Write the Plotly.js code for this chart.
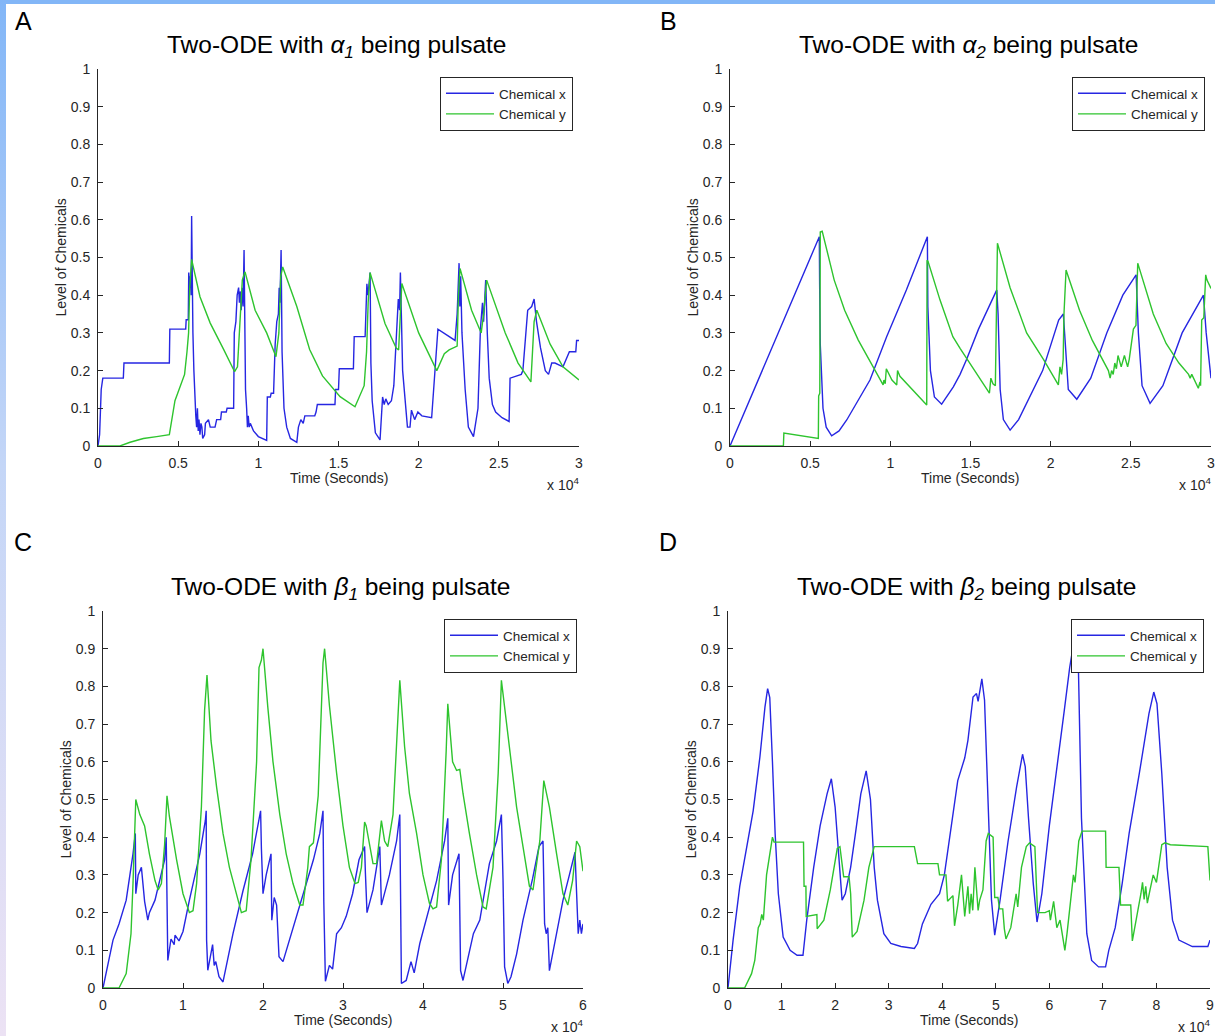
<!DOCTYPE html>
<html><head><meta charset="utf-8">
<script src="https://cdn.plot.ly/plotly-3.0.1.min.js"></script>
<style>
html,body{margin:0;padding:0;background:#fff;}
#chart{position:absolute;left:0;top:0;width:1215px;height:1036px;}
#topbar{position:absolute;left:0;top:0;width:1215px;height:4px;background:#82b6f7;}
#leftbar{position:absolute;left:0;top:0;width:6px;height:1036px;background:linear-gradient(#82b6f7,#c4d6f7 45%,#ece2f4);}
</style></head>
<body>
<div id="chart"></div><div id="topbar"></div><div id="leftbar"></div>
<script>
// ---- DATA: [time (x10^4 s), level] ----
const seriesNames = ["Chemical x", "Chemical y"];
const panelTitles = [
  "Two-ODE with <i>α<sub>1</sub></i> being pulsate",
  "Two-ODE with <i>α<sub>2</sub></i> being pulsate",
  "Two-ODE with <i>β<sub>1</sub></i> being pulsate",
  "Two-ODE with <i>β<sub>2</sub></i> being pulsate"
];
const panelLetters = ["A", "B", "C", "D"];
const xRanges = [3, 3, 6, 9];
const xDticks = [0.5, 0.5, 1, 1];

const aX = [[0,0],[0.01,0.03],[0.02,0.15],[0.03,0.18],[0.158,0.18],[0.162,0.22],[0.445,0.22],[0.448,0.31],[0.547,0.31],[0.55,0.335],[0.563,0.335],[0.566,0.46],[0.569,0.38],[0.572,0.45],[0.575,0.42],[0.578,0.46],[0.581,0.40],[0.584,0.61],[0.587,0.35],[0.592,0.3],[0.598,0.2],[0.603,0.12],[0.61,0.08],[0.615,0.05],[0.62,0.1],[0.625,0.04],[0.63,0.07],[0.636,0.03],[0.642,0.06],[0.648,0.05],[0.653,0.02],[0.665,0.03],[0.67,0.06],[0.689,0.07],[0.7,0.05],[0.73,0.05],[0.74,0.07],[0.765,0.07],[0.77,0.09],[0.8,0.09],[0.805,0.1],[0.846,0.1],[0.85,0.3],[0.86,0.33],[0.868,0.4],[0.877,0.42],[0.882,0.38],[0.888,0.41],[0.893,0.36],[0.9,0.42],[0.905,0.37],[0.911,0.52],[0.915,0.3],[0.92,0.15],[0.927,0.1],[0.932,0.05],[0.937,0.08],[0.943,0.05],[0.95,0.06],[0.97,0.04],[1.0,0.025],[1.03,0.018],[1.052,0.015],[1.056,0.13],[1.075,0.13],[1.08,0.14],[1.095,0.14],[1.105,0.27],[1.115,0.33],[1.125,0.35],[1.13,0.42],[1.135,0.38],[1.142,0.52],[1.148,0.25],[1.16,0.1],[1.177,0.05],[1.2,0.02],[1.24,0.01],[1.25,0.05],[1.265,0.07],[1.28,0.06],[1.29,0.08],[1.352,0.08],[1.36,0.09],[1.368,0.11],[1.478,0.11],[1.482,0.15],[1.5,0.15],[1.505,0.205],[1.593,0.205],[1.598,0.29],[1.666,0.29],[1.671,0.38],[1.677,0.43],[1.684,0.4],[1.69,0.44],[1.697,0.46],[1.702,0.22],[1.71,0.12],[1.73,0.035],[1.759,0.016],[1.775,0.13],[1.785,0.11],[1.795,0.125],[1.81,0.11],[1.83,0.12],[1.845,0.16],[1.873,0.39],[1.881,0.36],[1.886,0.46],[1.892,0.35],[1.9,0.2],[1.93,0.05],[1.946,0.05],[1.955,0.095],[1.975,0.07],[1.995,0.09],[2.02,0.08],[2.081,0.075],[2.1,0.19],[2.12,0.31],[2.227,0.28],[2.24,0.35],[2.252,0.485],[2.257,0.37],[2.262,0.45],[2.27,0.3],[2.29,0.15],[2.31,0.05],[2.342,0.025],[2.37,0.1],[2.385,0.31],[2.398,0.38],[2.405,0.33],[2.418,0.44],[2.428,0.3],[2.44,0.18],[2.46,0.11],[2.48,0.09],[2.52,0.075],[2.564,0.065],[2.57,0.18],[2.64,0.19],[2.65,0.2],[2.68,0.36],[2.705,0.37],[2.72,0.39],[2.735,0.33],[2.76,0.26],[2.79,0.2],[2.81,0.19],[2.83,0.22],[2.85,0.22],[2.9,0.21],[2.93,0.24],[2.94,0.25],[2.98,0.25],[2.985,0.28],[3.0,0.28]];
const aY = [[0,0],[0.137,0],[0.2,0.01],[0.283,0.02],[0.366,0.025],[0.445,0.03],[0.48,0.12],[0.51,0.155],[0.54,0.19],[0.555,0.25],[0.565,0.3],[0.572,0.42],[0.584,0.495],[0.636,0.396],[0.7,0.326],[0.785,0.255],[0.852,0.197],[0.87,0.21],[0.885,0.31],[0.9,0.44],[0.917,0.462],[0.98,0.36],[1.052,0.3],[1.11,0.237],[1.128,0.3],[1.14,0.45],[1.152,0.475],[1.24,0.37],[1.32,0.256],[1.4,0.186],[1.51,0.131],[1.603,0.104],[1.66,0.16],[1.675,0.25],[1.685,0.38],[1.697,0.46],[1.79,0.325],[1.86,0.26],[1.875,0.255],[1.885,0.35],[1.895,0.431],[2.0,0.3],[2.113,0.2],[2.16,0.245],[2.19,0.255],[2.24,0.265],[2.248,0.4],[2.258,0.471],[2.33,0.36],[2.39,0.3],[2.405,0.35],[2.424,0.44],[2.54,0.3],[2.62,0.22],[2.70,0.17],[2.72,0.33],[2.737,0.36],[2.82,0.27],[2.9,0.21],[3.0,0.175]];

const bX = [[0,0],[0.557,0.555],[0.559,0.43],[0.563,0.27],[0.58,0.1],[0.6,0.05],[0.634,0.027],[0.68,0.04],[0.728,0.069],[0.8,0.12],[0.873,0.175],[0.977,0.29],[1.10,0.414],[1.231,0.555],[1.234,0.37],[1.25,0.2],[1.275,0.13],[1.32,0.111],[1.393,0.157],[1.435,0.19],[1.476,0.23],[1.55,0.31],[1.664,0.414],[1.672,0.35],[1.685,0.15],[1.705,0.07],[1.747,0.042],[1.8,0.07],[1.85,0.113],[1.95,0.2],[2.05,0.334],[2.079,0.35],[2.09,0.28],[2.11,0.15],[2.163,0.124],[2.25,0.18],[2.35,0.3],[2.45,0.4],[2.533,0.454],[2.547,0.3],[2.57,0.16],[2.62,0.113],[2.7,0.16],[2.82,0.3],[2.953,0.40],[2.97,0.3],[3.0,0.18]];
const bY = [[0,0],[0.333,0],[0.336,0.034],[0.551,0.02],[0.553,0.133],[0.56,0.14],[0.563,0.568],[0.575,0.57],[0.65,0.44],[0.715,0.36],[0.8,0.281],[0.88,0.22],[0.955,0.162],[0.96,0.175],[0.968,0.165],[0.975,0.205],[0.99,0.19],[1.01,0.175],[1.04,0.162],[1.045,0.2],[1.06,0.185],[1.227,0.109],[1.229,0.493],[1.235,0.49],[1.31,0.387],[1.39,0.29],[1.435,0.259],[1.497,0.219],[1.56,0.18],[1.618,0.14],[1.627,0.18],[1.64,0.165],[1.655,0.16],[1.66,0.29],[1.668,0.538],[1.747,0.42],[1.85,0.3],[1.955,0.23],[2.048,0.162],[2.058,0.21],[2.068,0.19],[2.078,0.23],[2.083,0.35],[2.096,0.467],[2.18,0.36],[2.26,0.28],[2.36,0.2],[2.371,0.18],[2.38,0.2],[2.39,0.19],[2.4,0.22],[2.41,0.205],[2.42,0.24],[2.44,0.21],[2.46,0.24],[2.48,0.21],[2.49,0.23],[2.516,0.31],[2.532,0.32],[2.543,0.485],[2.64,0.35],[2.72,0.272],[2.80,0.22],[2.86,0.19],[2.87,0.18],[2.88,0.19],[2.921,0.153],[2.931,0.17],[2.935,0.16],[2.942,0.334],[2.955,0.34],[2.967,0.454],[2.975,0.44],[3.0,0.418]];

const cX = [[0,0],[0.125,0.127],[0.2,0.17],[0.29,0.233],[0.375,0.356],[0.404,0.41],[0.41,0.25],[0.44,0.3],[0.48,0.32],[0.5,0.28],[0.52,0.23],[0.56,0.18],[0.58,0.2],[0.65,0.233],[0.71,0.286],[0.77,0.34],[0.79,0.4],[0.81,0.073],[0.85,0.13],[0.89,0.115],[0.9,0.14],[0.95,0.125],[1.0,0.15],[1.08,0.233],[1.21,0.356],[1.28,0.445],[1.29,0.47],[1.295,0.127],[1.31,0.047],[1.35,0.1],[1.37,0.115],[1.39,0.06],[1.41,0.07],[1.45,0.03],[1.5,0.016],[1.625,0.144],[1.75,0.258],[1.87,0.356],[1.96,0.453],[1.97,0.47],[1.98,0.37],[2.0,0.25],[2.04,0.3],[2.1,0.356],[2.11,0.18],[2.14,0.24],[2.17,0.22],[2.2,0.083],[2.25,0.07],[2.33,0.127],[2.5,0.25],[2.63,0.34],[2.71,0.41],[2.75,0.47],[2.76,0.23],[2.78,0.018],[2.83,0.06],[2.87,0.05],[2.92,0.144],[2.98,0.16],[3.04,0.19],[3.12,0.25],[3.2,0.34],[3.27,0.375],[3.28,0.305],[3.3,0.2],[3.375,0.26],[3.46,0.375],[3.48,0.22],[3.58,0.3],[3.67,0.39],[3.71,0.46],[3.73,0.012],[3.79,0.02],[3.85,0.07],[3.89,0.04],[3.96,0.118],[4.04,0.18],[4.17,0.285],[4.27,0.39],[4.31,0.45],[4.32,0.22],[4.37,0.3],[4.45,0.356],[4.47,0.046],[4.5,0.02],[4.63,0.144],[4.71,0.18],[4.83,0.33],[4.92,0.39],[4.98,0.46],[5.0,0.29],[5.02,0.056],[5.06,0.012],[5.1,0.03],[5.17,0.09],[5.25,0.18],[5.37,0.29],[5.45,0.375],[5.5,0.39],[5.52,0.17],[5.54,0.144],[5.56,0.16],[5.58,0.046],[5.75,0.233],[5.83,0.3],[5.9,0.36],[5.94,0.144],[5.96,0.18],[5.98,0.144],[6.0,0.17]];
const cY = [[0,0],[0.2,0],[0.29,0.038],[0.35,0.144],[0.375,0.277],[0.396,0.41],[0.41,0.5],[0.46,0.46],[0.52,0.43],[0.58,0.356],[0.65,0.285],[0.69,0.26],[0.73,0.277],[0.77,0.38],[0.8,0.51],[0.83,0.455],[0.92,0.34],[1.0,0.25],[1.08,0.2],[1.125,0.205],[1.17,0.277],[1.23,0.48],[1.27,0.737],[1.3,0.83],[1.35,0.656],[1.42,0.533],[1.5,0.41],[1.58,0.32],[1.67,0.25],[1.73,0.2],[1.79,0.205],[1.85,0.34],[1.92,0.6],[1.95,0.85],[1.98,0.87],[2.0,0.9],[2.06,0.745],[2.125,0.6],[2.21,0.46],[2.29,0.356],[2.375,0.277],[2.46,0.22],[2.5,0.22],[2.56,0.32],[2.58,0.375],[2.63,0.385],[2.69,0.51],[2.75,0.862],[2.77,0.9],[2.83,0.75],[2.92,0.57],[3.0,0.43],[3.08,0.32],[3.15,0.277],[3.19,0.28],[3.23,0.32],[3.27,0.44],[3.29,0.43],[3.375,0.33],[3.42,0.33],[3.48,0.444],[3.52,0.39],[3.56,0.375],[3.625,0.46],[3.67,0.648],[3.71,0.816],[3.77,0.64],[3.83,0.516],[3.92,0.41],[4.0,0.3],[4.08,0.225],[4.125,0.21],[4.17,0.215],[4.23,0.34],[4.29,0.63],[4.31,0.754],[4.37,0.6],[4.42,0.577],[4.46,0.58],[4.5,0.516],[4.58,0.41],[4.67,0.3],[4.75,0.215],[4.79,0.21],[4.875,0.32],[4.94,0.57],[4.98,0.816],[5.02,0.745],[5.08,0.63],[5.17,0.48],[5.25,0.375],[5.33,0.27],[5.375,0.26],[5.46,0.39],[5.51,0.55],[5.58,0.48],[5.67,0.356],[5.75,0.25],[5.81,0.22],[5.87,0.285],[5.92,0.39],[5.96,0.375],[6.0,0.31]];

const dX = [[0,0],[0.095,0.127],[0.22,0.27],[0.345,0.375],[0.47,0.47],[0.595,0.612],[0.69,0.745],[0.74,0.794],[0.78,0.77],[0.83,0.6],[0.88,0.41],[0.94,0.25],[1.03,0.135],[1.16,0.1],[1.29,0.087],[1.4,0.087],[1.47,0.18],[1.6,0.32],[1.72,0.43],[1.85,0.515],[1.93,0.555],[2.0,0.48],[2.07,0.34],[2.13,0.233],[2.19,0.25],[2.29,0.32],[2.38,0.41],[2.48,0.515],[2.58,0.576],[2.66,0.5],[2.73,0.32],[2.79,0.233],[2.91,0.144],[3.04,0.118],[3.23,0.11],[3.48,0.105],[3.54,0.118],[3.63,0.17],[3.79,0.222],[3.95,0.25],[4.04,0.3],[4.17,0.435],[4.29,0.55],[4.42,0.61],[4.48,0.657],[4.575,0.772],[4.64,0.781],[4.67,0.76],[4.74,0.82],[4.79,0.764],[4.86,0.5],[4.92,0.233],[4.98,0.14],[5.08,0.233],[5.23,0.39],[5.39,0.534],[5.5,0.62],[5.55,0.587],[5.61,0.453],[5.7,0.277],[5.77,0.175],[5.86,0.25],[6.0,0.43],[6.16,0.6],[6.28,0.737],[6.38,0.85],[6.46,0.92],[6.54,0.87],[6.6,0.45],[6.7,0.144],[6.79,0.073],[6.92,0.056],[7.05,0.056],[7.11,0.1],[7.23,0.16],[7.36,0.277],[7.49,0.41],[7.68,0.569],[7.86,0.728],[7.95,0.785],[8.01,0.754],[8.1,0.569],[8.2,0.32],[8.3,0.18],[8.42,0.127],[8.67,0.11],[8.96,0.11],[9.0,0.127]];
const dY = [[0,0],[0.31,0],[0.44,0.038],[0.5,0.073],[0.565,0.16],[0.6,0.17],[0.63,0.195],[0.66,0.18],[0.72,0.3],[0.78,0.356],[0.83,0.4],[0.86,0.387],[1.41,0.387],[1.42,0.27],[1.455,0.27],[1.46,0.19],[1.66,0.195],[1.665,0.157],[1.79,0.18],[1.91,0.26],[2.04,0.37],[2.09,0.375],[2.13,0.33],[2.16,0.295],[2.26,0.295],[2.29,0.25],[2.32,0.135],[2.41,0.15],[2.54,0.233],[2.63,0.32],[2.73,0.375],[3.48,0.375],[3.54,0.33],[3.92,0.33],[3.95,0.3],[4.07,0.3],[4.1,0.23],[4.2,0.245],[4.23,0.165],[4.29,0.22],[4.36,0.3],[4.42,0.19],[4.48,0.27],[4.51,0.197],[4.54,0.25],[4.57,0.206],[4.61,0.32],[4.67,0.206],[4.7,0.233],[4.76,0.26],[4.82,0.39],[4.86,0.41],[4.95,0.4],[4.98,0.24],[5.04,0.24],[5.07,0.21],[5.13,0.21],[5.16,0.157],[5.19,0.13],[5.28,0.16],[5.38,0.25],[5.41,0.215],[5.48,0.32],[5.57,0.375],[5.63,0.385],[5.73,0.375],[5.78,0.2],[5.92,0.2],[6.0,0.205],[6.02,0.18],[6.08,0.23],[6.14,0.16],[6.2,0.18],[6.26,0.13],[6.29,0.1],[6.33,0.144],[6.39,0.22],[6.45,0.3],[6.48,0.28],[6.55,0.39],[6.61,0.416],[7.05,0.416],[7.06,0.32],[7.3,0.32],[7.33,0.22],[7.52,0.22],[7.55,0.125],[7.61,0.17],[7.71,0.25],[7.74,0.28],[7.77,0.235],[7.8,0.27],[7.83,0.225],[7.88,0.26],[7.94,0.3],[8.0,0.28],[8.1,0.38],[8.16,0.385],[8.26,0.38],[8.96,0.375],[9.0,0.285]];

const panelData = [[aX, aY], [bX, bY], [cX, cY], [dX, dY]];

// ---- LAYOUT (pixel boxes of each plot area) ----
const W = 1215, H = 1036;
const boxes = [
  {l: 98, r: 579, t: 69, b: 446},
  {l: 730, r: 1211, t: 69, b: 446},
  {l: 103, r: 583, t: 611, b: 988},
  {l: 728, r: 1210, t: 611, b: 988}
];
const px = x => x / W, py = y => 1 - y / H;
const colors = ["#2626e2", "#2ec42e"];
const FONT = "Liberation Sans, Arial, Helvetica, sans-serif";
const axisColor = "#262626";

const traces = [];
const layout = {
  width: W, height: H, margin: {l: 0, r: 0, t: 0, b: 0},
  paper_bgcolor: "rgba(0,0,0,0)", plot_bgcolor: "rgba(0,0,0,0)",
  font: {family: FONT, color: axisColor},
  annotations: [], showlegend: true
};

panelData.forEach((pd, i) => {
  const n = i === 0 ? "" : String(i + 1);
  const bx = boxes[i];
  const legKey = i === 0 ? "legend" : "legend" + (i + 1);
  pd.forEach((series, s) => {
    traces.push({
      type: "scatter", mode: "lines",
      x: series.map(p => p[0]), y: series.map(p => p[1]),
      name: seriesNames[s], xaxis: "x" + n, yaxis: "y" + n,
      legend: legKey,
      line: {color: colors[s], width: 1.4}, hoverinfo: "skip"
    });
  });
  const common = {
    showline: true, linecolor: axisColor, linewidth: 1, mirror: false,
    showgrid: false, zeroline: false, ticks: "inside", ticklen: 5,
    tickwidth: 1, tickcolor: axisColor, tickfont: {size: 14, color: axisColor, family: FONT},
    fixedrange: true, ticklabeloverflow: "allow"
  };
  layout["xaxis" + n] = Object.assign({}, common, {
    domain: [px(bx.l), px(bx.r)], range: [0, xRanges[i]], tick0: 0, dtick: xDticks[i],
    anchor: "y" + n, ticklabelstandoff: 4
  });
  layout["yaxis" + n] = Object.assign({}, common, {
    domain: [py(bx.b), py(bx.t)], range: [0, 1], tick0: 0, dtick: 0.1,
    anchor: "x" + n, ticklabelstandoff: 4
  });
  layout[legKey] = {
    x: px(bx.r - 6), y: py(bx.t + 8), xanchor: "right", yanchor: "top",
    bgcolor: "#ffffff", bordercolor: axisColor, borderwidth: 1,
    font: {size: 13.5, color: axisColor, family: FONT}, itemwidth: 48,
    tracegroupgap: 0
  };
  const cx = (bx.l + bx.r) / 2;
  // panel letter
  layout.annotations.push({
    text: panelLetters[i], x: px(i % 2 === 0 ? 23 : 668), y: py(i < 2 ? 21 : 542),
    xref: "paper", yref: "paper", showarrow: false, xanchor: "center", yanchor: "middle",
    font: {size: 25, color: "#000", family: FONT}
  });
  // title
  layout.annotations.push({
    text: panelTitles[i], x: px(cx - 2), y: py(bx.t - 23),
    xref: "paper", yref: "paper", showarrow: false, xanchor: "center", yanchor: "middle",
    font: {size: 24.5, color: "#000", family: FONT}
  });
  // y label
  layout.annotations.push({
    text: "Level of Chemicals", x: px(bx.l - 38), y: py((bx.t + bx.b) / 2),
    xref: "paper", yref: "paper", showarrow: false, xanchor: "center", yanchor: "middle",
    textangle: -90, font: {size: 14, color: axisColor, family: FONT}
  });
  // x label
  layout.annotations.push({
    text: "Time (Seconds)", x: px(cx), y: py(bx.b + 32),
    xref: "paper", yref: "paper", showarrow: false, xanchor: "center", yanchor: "middle",
    font: {size: 14, color: axisColor, family: FONT}
  });
  // exponent
  layout.annotations.push({
    text: "x 10<sup>4</sup>", x: px(bx.r - 16), y: py(bx.b + 38),
    xref: "paper", yref: "paper", showarrow: false, xanchor: "center", yanchor: "middle",
    font: {size: 14, color: axisColor, family: FONT}
  });
});

Plotly.newPlot("chart", traces, layout, {displayModeBar: false, staticPlot: true});
</script>
</body></html>
